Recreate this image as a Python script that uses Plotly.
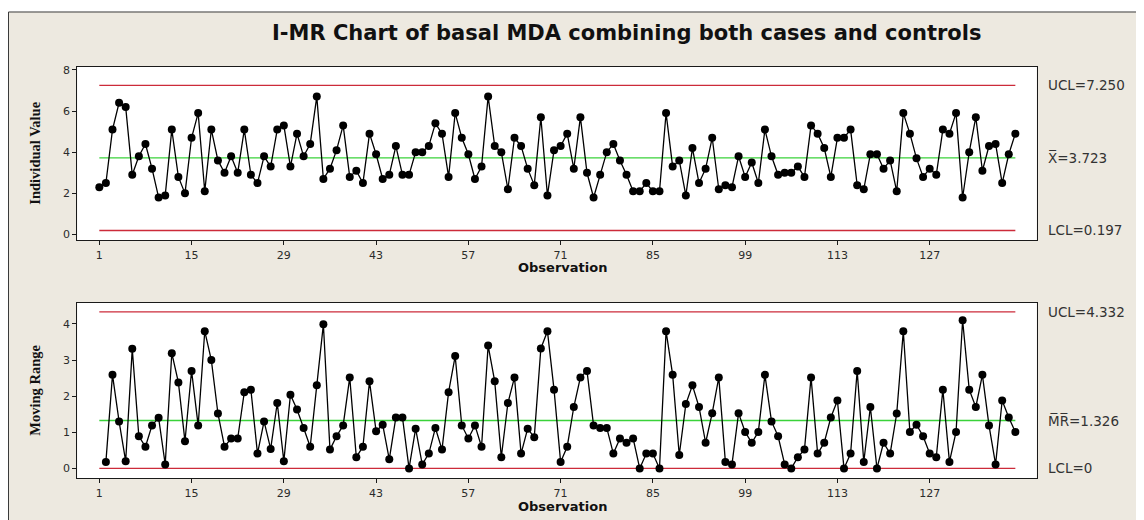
import plotly.graph_objects as go

# the page body adds an 8 px margin, so the figure is drawn 8 px smaller
OFF = 8
W, H = 1144 - OFF, 520 - OFF

# ---------------- data ----------------
obs_tick_labels = [1, 15, 29, 43, 57, 71, 85, 99, 113, 127]

individual = [
    2.3, 2.5, 5.1, 6.4, 6.2, 2.9, 3.8, 4.4, 3.2, 1.8,
    1.9, 5.1, 2.8, 2.0, 4.7, 5.9, 2.1, 5.1, 3.6, 3.0,
    3.8, 3.0, 5.1, 2.9, 2.5, 3.8, 3.3, 5.1, 5.3, 3.3,
    4.9, 3.8, 4.4, 6.7, 2.7, 3.2, 4.1, 5.3, 2.8, 3.1,
    2.5, 4.9, 3.9, 2.7, 2.9, 4.3, 2.9, 2.9, 4.0, 4.0,
    4.3, 5.4, 4.9, 2.8, 5.9, 4.7, 3.9, 2.7, 3.3, 6.7,
    4.3, 4.0, 2.2, 4.7, 4.3, 3.2, 2.4, 5.7, 1.9, 4.1,
    4.3, 4.9, 3.2, 5.7, 3.0, 1.8, 2.9, 4.0, 4.4, 3.6,
    2.9, 2.1, 2.1, 2.5, 2.1, 2.1, 5.9, 3.3, 3.6, 1.9,
    4.2, 2.5, 3.2, 4.7, 2.2, 2.4, 2.3, 3.8, 2.8, 3.5,
    2.5, 5.1, 3.8, 2.9, 3.0, 3.0, 3.3, 2.8, 5.3, 4.9,
    4.2, 2.8, 4.7, 4.7, 5.1, 2.4, 2.2, 3.9, 3.9, 3.2,
    3.6, 2.1, 5.9, 4.9, 3.7, 2.8, 3.2, 2.9, 5.1, 4.9,
    5.9, 1.8, 4.0, 5.7, 3.1, 4.3, 4.4, 2.5, 3.9, 4.9,
]

# moving ranges, observations 2..140
moving_range = [
    0.18, 2.59, 1.30, 0.20, 3.31, 0.89, 0.60, 1.19, 1.40, 0.11,
    3.19, 2.38, 0.75, 2.70, 1.19, 3.80, 3.00, 1.52, 0.60, 0.83,
    0.83, 2.11, 2.18, 0.41, 1.30, 0.54, 1.81, 0.20, 2.04, 1.63,
    1.12, 0.60, 2.30, 3.99, 0.52, 0.89, 1.19, 2.52, 0.31, 0.60,
    2.41, 1.03, 1.21, 0.25, 1.41, 1.41, 0.00, 1.10, 0.11, 0.41,
    1.12, 0.52, 2.11, 3.11, 1.19, 0.83, 1.19, 0.60, 3.40, 2.41,
    0.31, 1.81, 2.52, 0.41, 1.10, 0.86, 3.32, 3.80, 2.18, 0.18,
    0.60, 1.70, 2.52, 2.70, 1.19, 1.12, 1.12, 0.41, 0.83, 0.71,
    0.83, 0.00, 0.41, 0.41, 0.00, 3.80, 2.59, 0.37, 1.78, 2.30,
    1.70, 0.71, 1.53, 2.52, 0.18, 0.11, 1.53, 1.01, 0.71, 1.01,
    2.59, 1.30, 0.89, 0.11, 0.00, 0.31, 0.52, 2.52, 0.41, 0.71,
    1.41, 1.88, 0.00, 0.41, 2.70, 0.18, 1.70, 0.00, 0.71, 0.41,
    1.52, 3.80, 1.01, 1.21, 0.89, 0.41, 0.31, 2.18, 0.18, 1.01,
    4.10, 2.18, 1.70, 2.59, 1.19, 0.11, 1.88, 1.41, 1.01,
]

i_ucl, i_center, i_lcl = 7.250, 3.723, 0.197
mr_ucl, mr_center, mr_lcl = 4.332, 1.326, 0.0
i_yticks = [0, 2, 4, 6, 8]
mr_yticks = [0, 1, 2, 3, 4]

title_text = "I-MR Chart of basal MDA combining both cases and controls"
i_labels = ["UCL=7.250", "X\u0305=3.723", "LCL=0.197"]
mr_labels = ["UCL=4.332", "M\u0305R\u0305=1.326", "LCL=0"]

# ---------------- helpers (reference page pixels -> paper) ----------------
def px(x):
    return (x - OFF) / W

def py(y):
    return 1 - (y - OFF) / H

n = len(individual)
obs = list(range(1, n + 1))
mr_obs = obs[1:]

RED = "#CC2B3A"
GREEN = "#3AD23A"
TXT = "#2b2b2b"

fig = go.Figure()

def limit_lines(xa, ya, ucl, cl, lcl):
    for val, col in ((ucl, RED), (lcl, RED), (cl, GREEN)):
        fig.add_trace(go.Scatter(
            x=[obs[0], obs[-1]], y=[val, val], mode="lines",
            line=dict(color=col, width=1.3), xaxis=xa, yaxis=ya,
            hoverinfo="skip", showlegend=False))

limit_lines("x", "y", i_ucl, i_center, i_lcl)
fig.add_trace(go.Scatter(
    x=obs, y=individual, mode="lines+markers",
    line=dict(color="black", width=1.3),
    marker=dict(color="black", size=8),
    xaxis="x", yaxis="y", showlegend=False))

limit_lines("x2", "y2", mr_ucl, mr_center, mr_lcl)
fig.add_trace(go.Scatter(
    x=mr_obs, y=moving_range, mode="lines+markers",
    line=dict(color="black", width=1.3),
    marker=dict(color="black", size=8),
    xaxis="x2", yaxis="y2", showlegend=False))

# plot box geometry (reference pixels)
L, R = 77.3, 1036.7
T1, B1 = 64.3, 239.3
T2, B2 = 302.3, 479.0
xr = [-2.34, 143.24]

axis_common = dict(
    showgrid=False, zeroline=False, showline=True, mirror=True,
    linecolor="#1a1a1a", linewidth=1, ticks="outside", ticklen=4,
    tickcolor="#1a1a1a", tickfont=dict(family="DejaVu Sans", size=11, color=TXT),
)

fig.update_layout(
    width=W, height=H,
    margin=dict(l=0, r=0, t=0, b=0),
    paper_bgcolor="white", plot_bgcolor="rgba(0,0,0,0)",
    xaxis=dict(domain=[px(L), px(R)], range=xr, tickvals=obs_tick_labels,
               anchor="y", **axis_common),
    yaxis=dict(domain=[py(B1), py(T1)], range=[-0.289, 8.145],
               tickvals=i_yticks, anchor="x", **axis_common),
    xaxis2=dict(domain=[px(L), px(R)], range=xr, tickvals=obs_tick_labels,
                anchor="y2", **axis_common),
    yaxis2=dict(domain=[py(B2), py(T2)], range=[-0.275, 4.58],
                tickvals=mr_yticks, anchor="x2", **axis_common),
)

shapes = [
    dict(type="rect", xref="paper", yref="paper", x0=px(8.5), x1=px(1170),
         y0=py(560), y1=py(9), fillcolor="#EDE9E0",
         line=dict(color="#3a3a3a", width=1), layer="below"),
    dict(type="rect", xref="paper", yref="paper", x0=px(L), x1=px(R),
         y0=py(B1), y1=py(T1), fillcolor="white", line=dict(width=0), layer="below"),
    dict(type="rect", xref="paper", yref="paper", x0=px(L), x1=px(R),
         y0=py(B2), y1=py(T2), fillcolor="white", line=dict(width=0), layer="below"),
]
fig.update_layout(shapes=shapes)

ann = []
ann.append(dict(text="<b>" + title_text + "</b>", x=px(626), y=py(30),
                xref="paper", yref="paper",
                showarrow=False, xanchor="center", yanchor="middle",
                font=dict(family="DejaVu Sans", size=21, color="#111")))

for lab, val in zip(i_labels, (i_ucl, i_center, i_lcl)):
    ann.append(dict(text=lab, x=px(1046), y=val, xref="paper", yref="y",
                    showarrow=False, xanchor="left", yanchor="middle",
                    font=dict(family="DejaVu Sans", size=13.5, color="#333")))
for lab, val in zip(mr_labels, (mr_ucl, mr_center, mr_lcl)):
    ann.append(dict(text=lab, x=px(1046), y=val, xref="paper", yref="y2",
                    showarrow=False, xanchor="left", yanchor="middle",
                    font=dict(family="DejaVu Sans", size=13.5, color="#333")))

for yy in (267, 507):
    ann.append(dict(text="<b>Observation</b>", x=px(562), y=py(yy), xref="paper", yref="paper",
                    showarrow=False, xanchor="center", yanchor="middle",
                    font=dict(family="DejaVu Sans", size=13, color="#111")))

ann.append(dict(text="<b>Individual Value</b>", x=px(35), y=py((T1 + B1) / 2),
                xref="paper", yref="paper", showarrow=False, textangle=-90,
                xanchor="center", yanchor="middle",
                font=dict(family="Liberation Serif", size=14.5, color="#111")))
ann.append(dict(text="<b>Moving Range</b>", x=px(35), y=py((T2 + B2) / 2),
                xref="paper", yref="paper", showarrow=False, textangle=-90,
                xanchor="center", yanchor="middle",
                font=dict(family="Liberation Serif", size=14.5, color="#111")))

fig.update_layout(annotations=ann)

fig.write_html("out.html")
